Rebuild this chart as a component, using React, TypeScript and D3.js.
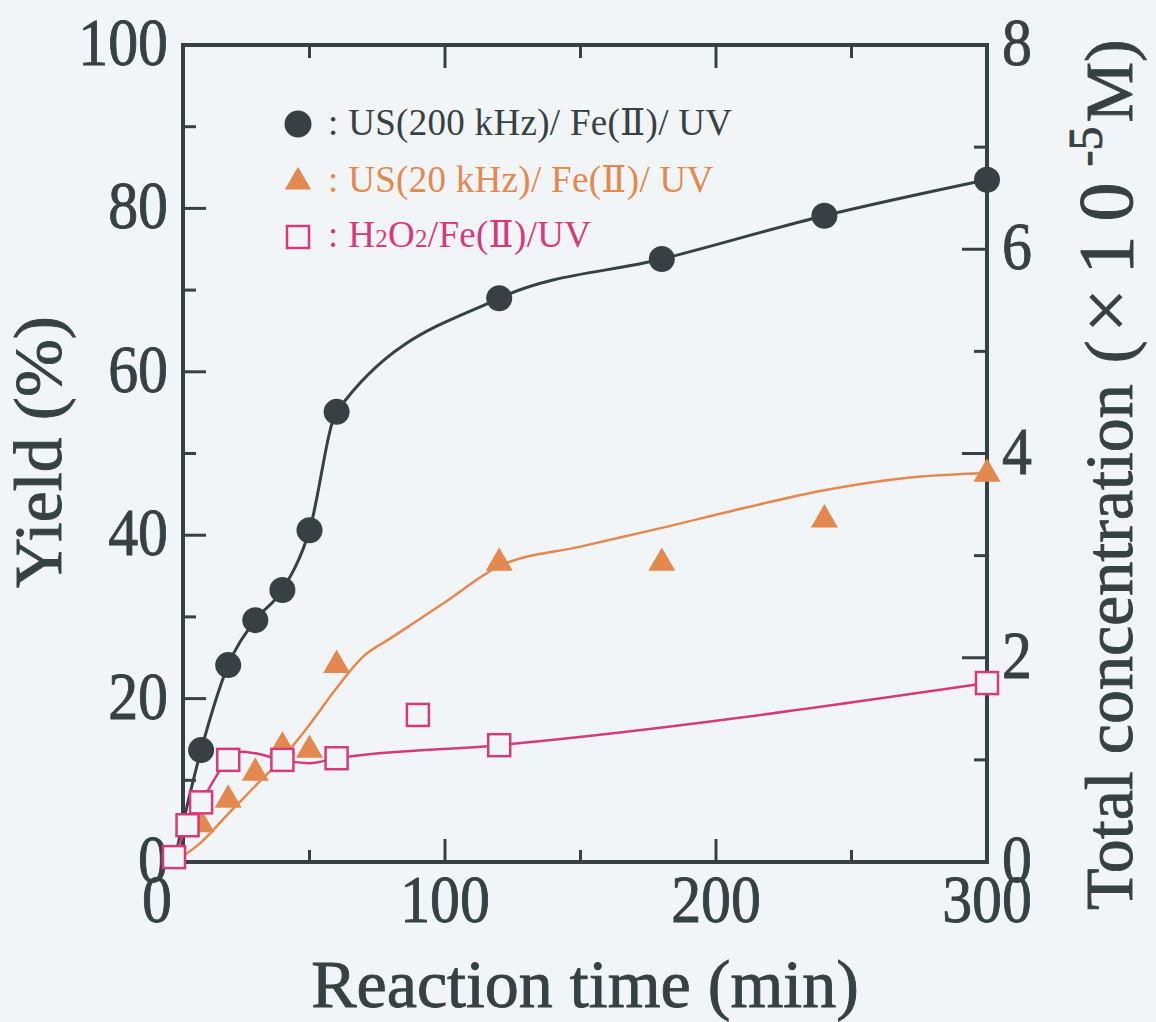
import React from "react";
import * as d3 from "d3";

// ---- data -------------------------------------------------------------
// US(200 kHz)/Fe(II)/UV  (yield %, measured points; the curve passes through them)
const usHighTimes = [0, 10, 20, 30, 40, 50, 60, 120, 180, 240, 300];
const usHighYield = [0, 13.7, 24.1, 29.6, 33.3, 40.6, 55.1, 69.0, 73.8, 79.1, 83.5];

// US(20 kHz)/Fe(II)/UV measured points
const usLowTimes = [10, 20, 30, 40, 50, 60, 120, 180, 240, 300];
const usLowYield = [4.6, 7.6, 10.9, 14.1, 13.7, 24.1, 36.6, 36.6, 41.9, 47.5];
// US(20 kHz)/Fe(II)/UV fitted trend curve
const usLowFitTimes = [0, 10, 20, 30, 40, 50, 60, 70, 80, 90, 100, 120, 150, 180, 210, 240, 270, 300];
const usLowFitYield = [0, 2.4, 5.9, 9.3, 12.7, 16.8, 21.3, 25.2, 27.4, 29.6, 31.8, 36.2, 38.6, 40.9, 43.3, 45.5, 47.0, 47.6];

// H2O2/Fe(II)/UV measured points
const h2o2Times = [0, 5, 10, 20, 40, 60, 90, 120, 300];
const h2o2Yield = [0.6, 4.5, 7.3, 12.5, 12.5, 12.7, 18.0, 14.3, 21.9];
// H2O2/Fe(II)/UV fitted trend curve
const h2o2FitTimes = [0, 5, 10, 20, 25, 30, 40, 50, 60, 120, 300];
const h2o2FitYield = [0.6, 4.5, 7.3, 12.5, 13.5, 13.3, 12.5, 12.1, 12.7, 14.3, 21.9];

// axes
const xTickLabels = [0, 100, 200, 300];
const xMajorInner = [100, 200];
const xMinorTicks = [50, 150, 250];
const yLeftTickLabels = [0, 20, 40, 60, 80, 100];
const yLeftMajorInner = [20, 40, 60, 80];
const yLeftMinorTicks = [10, 30, 50, 70, 90];
const yRightTickLabels = [0, 2, 4, 6, 8];
const yRightMajorInner = [2, 4, 6];
const yRightMinorTicks = [1, 3, 5, 7];

const legendLabels = [": US(200 kHz)/ Fe(Ⅱ)/ UV", ": US(20 kHz)/ Fe(Ⅱ)/ UV", ": H2O2/Fe(Ⅱ)/UV"];

// ---- style --------------------------------------------------------------
const W = 1156;
const H = 1022;
const BG = "#f2f5f7";
const INK = "#374143";
const ORANGE = "#e3884f";
const MAGENTA = "#d43b7b";
const SERIF = "'Liberation Serif', 'Times New Roman', 'DejaVu Serif', 'Noto Sans CJK JP', serif";

const frame = { left: 183, right: 987, top: 45, bottom: 862 };

const x = d3.scaleLinear().domain([0, 300]).range([174, 987]);
const yL = d3.scaleLinear().domain([0, 100]).range([862, 45]);
const yR = d3.scaleLinear().domain([0, 8]).range([862, 45]);

const lineGen = d3
  .line<[number, number]>()
  .x((d) => x(d[0]))
  .y((d) => yL(d[1]))
  .curve(d3.curveMonotoneX);

const zip = (a: number[], b: number[]): [number, number][] => a.map((t, i) => [t, b[i]]);

const triPath = d3.symbol().type(d3.symbolTriangle).size(316)() as string;
const triLegend = d3.symbol().type(d3.symbolTriangle).size(300)() as string;

const bigText = {
  fontFamily: SERIF,
  fontSize: 68,
  fill: INK,
  stroke: INK,
  strokeWidth: 0.9,
} as const;

function Label({ x0, y0, anchor, text }: { x0: number; y0: number; anchor: "start" | "middle" | "end"; text: string }) {
  return (
    <text transform={`translate(${x0},${y0}) scale(0.88,1)`} textAnchor={anchor} style={bigText}>
      {text}
    </text>
  );
}

export default function App() {
  const usHigh = zip(usHighTimes, usHighYield);
  const usLow = zip(usLowTimes, usLowYield);
  const usLowFit = zip(usLowFitTimes, usLowFitYield);
  const h2o2 = zip(h2o2Times, h2o2Yield);
  const h2o2Fit = zip(h2o2FitTimes, h2o2FitYield);

  return (
    <svg
      width={W}
      height={H}
      viewBox={`0 0 ${W} ${H}`}
      style={{ position: "absolute", left: 0, top: 0, display: "block" }}
    >
      <rect x={0} y={0} width={W} height={H} fill={BG} />

      {/* frame */}
      <rect
        x={frame.left}
        y={frame.top}
        width={frame.right - frame.left}
        height={frame.bottom - frame.top}
        fill="none"
        stroke={INK}
        strokeWidth={4}
      />

      {/* ticks, all pointing inward */}
      <g stroke={INK} strokeWidth={3}>
        {xMajorInner.map((t) => (
          <g key={`xm${t}`}>
            <line x1={x(t)} x2={x(t)} y1={frame.bottom} y2={frame.bottom - 23} />
            <line x1={x(t)} x2={x(t)} y1={frame.top} y2={frame.top + 23} />
          </g>
        ))}
        {xMinorTicks.map((t) => (
          <g key={`xn${t}`}>
            <line x1={x(t)} x2={x(t)} y1={frame.bottom} y2={frame.bottom - 12} />
            <line x1={x(t)} x2={x(t)} y1={frame.top} y2={frame.top + 13} />
          </g>
        ))}
        {yLeftMajorInner.map((v) => (
          <line key={`yl${v}`} x1={frame.left} x2={frame.left + 23} y1={yL(v)} y2={yL(v)} />
        ))}
        {yLeftMinorTicks.map((v) => (
          <line key={`yln${v}`} x1={frame.left} x2={frame.left + 13} y1={yL(v)} y2={yL(v)} />
        ))}
        {yRightMajorInner.map((v) => (
          <line key={`yr${v}`} x1={frame.right} x2={frame.right - 25} y1={yR(v)} y2={yR(v)} />
        ))}
        {yRightMinorTicks.map((v) => (
          <line key={`yrn${v}`} x1={frame.right} x2={frame.right - 13} y1={yR(v)} y2={yR(v)} />
        ))}
      </g>

      {/* tick labels */}
      {xTickLabels.map((t) => (
        <Label key={`xl${t}`} x0={t === 0 ? x(t) - 17 : x(t)} y0={922} anchor="middle" text={String(t)} />
      ))}
      {yLeftTickLabels.map((v) => (
        <Label key={`yll${v}`} x0={168} y0={yL(v) + 20} anchor="end" text={String(v)} />
      ))}
      {yRightTickLabels.map((v) => (
        <Label key={`yrl${v}`} x0={1002} y0={yR(v) + 20} anchor="start" text={String(v)} />
      ))}

      {/* axis titles */}
      <text x={585} y={1007} textAnchor="middle" style={bigText}>
        Reaction time (min)
      </text>
      <text
        transform="translate(61,452) rotate(-90)"
        textAnchor="middle"
        textLength={272}
        lengthAdjust="spacingAndGlyphs"
        style={bigText}
      >
        Yield (%)
      </text>
      <text transform="translate(1132,910) rotate(-90)" textAnchor="start" style={bigText}>
        {"Total concentration "}
        <tspan dx={4}>(</tspan>
        <tspan dx={8} fontSize={78}>
          ×
        </tspan>
        <tspan dx={14} fontSize={78} letterSpacing={14}>
          10
        </tspan>
        <tspan dx={2} dy={-30} fontSize={48}>
          -5
        </tspan>
        <tspan dx={4} dy={30}>
          M)
        </tspan>
      </text>

      {/* curves */}
      <path d={lineGen(usHigh) ?? ""} fill="none" stroke={INK} strokeWidth={3} />
      <path d={lineGen(usLowFit) ?? ""} fill="none" stroke={ORANGE} strokeWidth={2.5} />
      <path d={lineGen(h2o2Fit) ?? ""} fill="none" stroke={MAGENTA} strokeWidth={2.5} />

      {/* markers */}
      {usHigh
        .filter((d) => d[1] > 0)
        .map((d, i) => (
          <circle key={`c${i}`} cx={x(d[0])} cy={yL(d[1])} r={13} fill={INK} />
        ))}
      {usLow.map((d, i) => (
        <path key={`t${i}`} d={triPath} transform={`translate(${x(d[0])},${yL(d[1])})`} fill={ORANGE} />
      ))}
      {h2o2.map((d, i) => (
        <rect
          key={`s${i}`}
          x={x(d[0]) - 11}
          y={yL(d[1]) - 11}
          width={22}
          height={22}
          fill={BG}
          stroke={MAGENTA}
          strokeWidth={2.5}
        />
      ))}

      {/* legend */}
      <g style={{ fontFamily: SERIF, fontSize: 37 }}>
        <circle cx={298} cy={124} r={13.5} fill={INK} />
        <text x={328} y={135} fill={INK} letterSpacing={0.3}>
          {legendLabels[0]}
        </text>
        <path d={triLegend} transform="translate(298,182)" fill={ORANGE} />
        <text x={328} y={192} fill={ORANGE} letterSpacing={0.3}>
          {legendLabels[1]}
        </text>
        <rect x={287} y={226} width={22} height={22} fill={BG} stroke={MAGENTA} strokeWidth={2.5} />
        <text x={328} y={247} fill={MAGENTA} letterSpacing={0.3}>
          {": H"}
          <tspan fontSize={25}>2</tspan>
          {"O"}
          <tspan fontSize={25}>2</tspan>
          {"/Fe(Ⅱ)/UV"}
        </text>
      </g>
    </svg>
  );
}
